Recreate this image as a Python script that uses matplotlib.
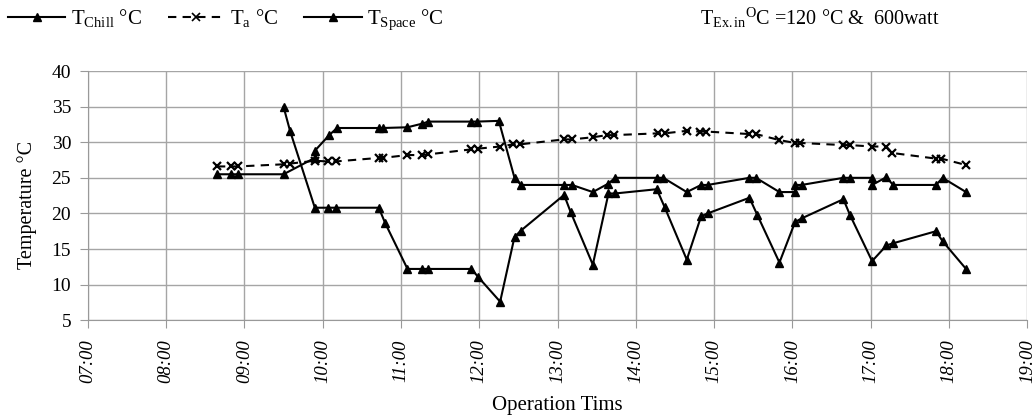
import matplotlib
matplotlib.use("Agg")
import matplotlib.pyplot as plt
from matplotlib.lines import Line2D

plt.rcParams['font.family'] = ['Liberation Serif', 'DejaVu Serif']
plt.rcParams['mathtext.fontset'] = 'custom'
plt.rcParams['mathtext.rm'] = 'Liberation Serif'
plt.rcParams['mathtext.it'] = 'Liberation Serif:italic'

# ---- data ----
space_times = ["08:39", "08:50", "08:55", "09:30", "09:54", "09:54", "10:05", "10:11",
               "10:43", "10:46", "11:05", "11:16", "11:21", "11:54", "11:58", "12:15",
               "12:27", "12:32", "13:05", "13:11", "13:27", "13:39", "13:44", "14:16",
               "14:21", "14:39", "14:50", "14:55", "15:27", "15:32", "15:50", "16:02",
               "16:02", "16:07", "16:39", "16:44", "17:01", "17:01", "17:12", "17:17",
               "17:50", "17:55", "18:13"]
space_temp = [25.5, 25.5, 25.5, 25.5, 27.8, 28.8, 31.0, 32.0,
              32.0, 32.0, 32.1, 32.6, 32.9, 32.9, 32.9, 33.0,
              25.0, 24.0, 24.0, 24.0, 23.0, 24.2, 25.0, 25.0,
              25.0, 23.0, 24.0, 24.0, 25.0, 25.0, 23.0, 23.0,
              24.0, 24.0, 25.0, 25.0, 25.0, 24.0, 25.1, 24.0,
              24.0, 25.0, 23.0]

chill_times = ["09:30", "09:35", "09:54", "10:04", "10:10", "10:43", "10:48", "11:05",
               "11:16", "11:21", "11:54", "11:59", "12:16", "12:27", "12:32", "13:05",
               "13:10", "13:27", "13:39", "13:44", "14:16", "14:22", "14:39", "14:50",
               "14:55", "15:27", "15:33", "15:50", "16:02", "16:07", "16:39", "16:44",
               "17:01", "17:12", "17:17", "17:50", "17:55", "18:13"]
chill_temp = [35.0, 31.6, 20.8, 20.8, 20.8, 20.8, 18.6, 12.2,
              12.2, 12.2, 12.2, 11.1, 7.6, 16.7, 17.6, 22.6,
              20.2, 12.8, 22.8, 22.8, 23.4, 20.9, 13.5, 19.6,
              20.0, 22.2, 19.8, 13.1, 18.8, 19.3, 22.0, 19.8,
              13.3, 15.5, 15.8, 17.5, 16.1, 12.2]

amb_times = ["08:39", "08:50", "08:55", "09:30", "09:35", "09:54", "10:04", "10:10",
             "10:43", "10:46", "11:05", "11:16", "11:21", "11:54", "11:59", "12:16",
             "12:26", "12:31", "13:05", "13:11", "13:27", "13:38", "13:43", "14:17",
             "14:22", "14:39", "14:49", "14:54", "15:27", "15:32", "15:50", "16:02",
             "16:06", "16:39", "16:44", "17:01", "17:12", "17:16", "17:50", "17:54",
             "18:13"]
amb_temp = [26.6, 26.6, 26.6, 26.9, 27.0, 27.4, 27.3, 27.3,
            27.8, 27.8, 28.2, 28.2, 28.3, 29.0, 29.1, 29.4,
            29.7, 29.7, 30.4, 30.4, 30.7, 31.0, 31.0, 31.25,
            31.25, 31.6, 31.5, 31.5, 31.15, 31.15, 30.3, 29.9,
            29.9, 29.6, 29.6, 29.4, 29.4, 28.5, 27.7, 27.7,
            26.8]

hour_ticks = list(range(7, 20))
hour_labels = [f"{h:02d}:00" for h in hour_ticks]
y_ticks = [5, 10, 15, 20, 25, 30, 35, 40]


def to_hours(times):
    out = []
    for t in times:
        h, m = t.split(":")
        out.append(int(h) + int(m) / 60)
    return out


fig = plt.figure(figsize=(10.36, 4.18), dpi=100)
ax = fig.add_axes([0.0847, 0.234, 0.907, 0.596])

ax.plot(to_hours(chill_times), chill_temp, color="black", lw=1.5,
        marker="^", ms=6)
ax.plot(to_hours(amb_times), amb_temp, color="black", lw=1.5, ls=(0, (4, 3)),
        marker="x", ms=6, mew=1.6)
ax.plot(to_hours(space_times), space_temp, color="black", lw=1.5,
        marker="^", ms=6)

ax.set_xlim(7, 19)
ax.set_ylim(5, 40)
ax.set_xticks(hour_ticks)
ax.set_xticklabels(hour_labels, rotation=90, style="italic", fontsize=13.5)
ax.set_yticks(y_ticks)
ax.tick_params(axis="y", labelsize=14, length=6, pad=6, color="#999999")
ax.tick_params(axis="x", length=6, pad=8, color="#999999")
ax.grid(True, color="#a5a5a5", lw=1)
for s in ["top", "right"]:
    ax.spines[s].set_visible(False)
for s in ["left", "bottom"]:
    ax.spines[s].set_color("#999999")

ax.set_ylabel("Temperature °C", fontsize=14.5)
ax.yaxis.set_label_coords(-0.054, 0.462)
ax.set_xlabel("Operation Tims", fontsize=15, labelpad=9)

# ---- legend ----
handles = [
    Line2D([], [], color="black", lw=1.5, marker="^", ms=6),
    Line2D([], [], color="black", lw=1.5, ls=(0, (4, 3)), marker="x", ms=6, mew=1.2),
    Line2D([], [], color="black", lw=1.5, marker="^", ms=6),
]
labels = [r"T$_{\mathrm{Chill}}$ °C", r"T$_{\mathrm{a}}$ °C", r"T$_{\mathrm{Space}}$ °C"]
fig.legend(handles, labels, loc="upper left", bbox_to_anchor=(-0.0103, 1.028), ncol=3,
           frameon=False, fontsize=15, handlelength=2.75, handletextpad=0.25,
           columnspacing=1.25)

fig.text(0.676, 0.957, r"T$_{\mathrm{Ex.in}}$$^{\mathrm{O}}$C =120 °C &  600watt",
         fontsize=14.5, ha="left", va="center")

fig.savefig("out.png", dpi=100)
